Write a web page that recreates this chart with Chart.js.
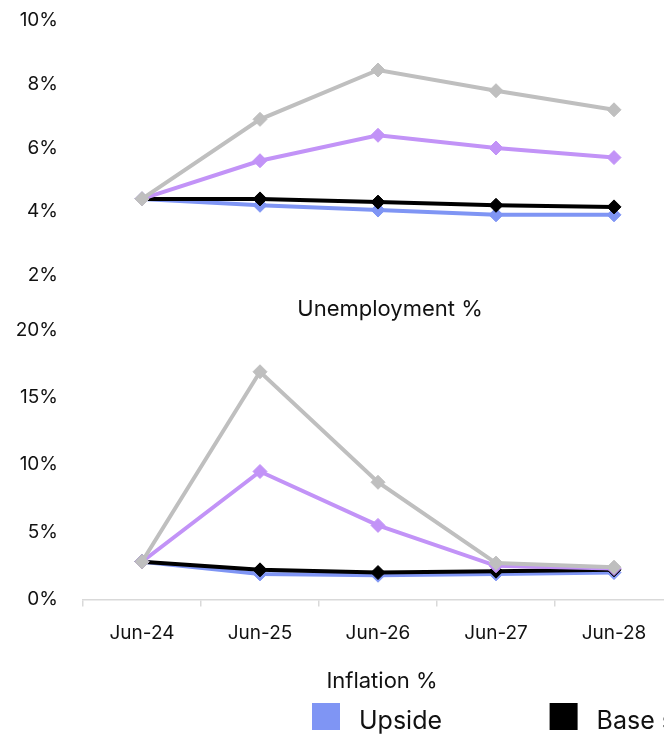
<!DOCTYPE html>
<html>
<head>
<meta charset="utf-8">
<script src="https://cdn.jsdelivr.net/npm/chart.js@4.4.1/dist/chart.umd.min.js"></script>
<style>
  html, body { margin: 0; padding: 0; background: #fff; }
  body { width: 664px; height: 734px; overflow: hidden; position: relative; }
  canvas { position: absolute; left: 0; }
  #unemp { top: 0; }
  #infl { top: 300px; }
</style>
</head>
<body>
<canvas id="unemp" width="700" height="330"></canvas>
<canvas id="infl" width="700" height="434"></canvas>
<script>
// Scenario forecasts, one point per year
const categories = ['Jun-24', 'Jun-25', 'Jun-26', 'Jun-27', 'Jun-28'];
const scenarioNames = ['Upside', 'Base scenario', 'Downside', 'Severe downside'];
const scenarioColors = ['#7f95f4', '#000000', '#c293f7', '#bfbfbf'];

// Unemployment rate, %
const unempUpside   = [4.4, 4.2, 4.05, 3.9, 3.9];
const unempBase     = [4.4, 4.4, 4.3, 4.2, 4.15];
const unempDownside = [4.4, 5.6, 6.4, 6.0, 5.7];
const unempSevere   = [4.4, 6.9, 8.45, 7.8, 7.2];

// Inflation, %
const inflUpside   = [2.8, 1.9, 1.8, 1.9, 2.0];
const inflBase     = [2.8, 2.2, 2.0, 2.1, 2.2];
const inflDownside = [2.8, 9.5, 5.5, 2.5, 2.3];
const inflSevere   = [2.8, 16.9, 8.7, 2.7, 2.4];

// Value axis ticks
const unempTicks = { min: 2, max: 10, step: 2 };
const inflTicks  = { min: 0, max: 20, step: 5 };

const FONT = 'Inter, "Noto Sans", sans-serif';

function makeDatasets(series) {
  // later scenarios drawn on top
  return series.map((values, i) => ({
    label: scenarioNames[i],
    data: values,
    borderColor: scenarioColors[i],
    backgroundColor: scenarioColors[i],
    pointBackgroundColor: scenarioColors[i],
    pointBorderColor: scenarioColors[i],
    borderWidth: 4,
    pointStyle: 'rectRot',
    pointRadius: 7,
    pointBorderWidth: 1,
    tension: 0,
    fill: false,
    order: series.length - i
  }));
}

function yAxis(t) {
  return {
    min: t.min, max: t.max,
    grid: { display: false, drawTicks: false },
    border: { display: false },
    ticks: {
      stepSize: t.step,
      padding: 25,
      color: '#111',
      font: { family: FONT, size: 19 },
      callback: v => v + '%'
    },
    afterFit: s => {
      // fixed gutter; label overhang handled by layout padding
      s.width = 83;
      s.paddingTop = 0;
      s.paddingBottom = 0;
    }
  };
}

// Caption text under each panel
const captionPlugin = {
  id: 'caption',
  afterDraw(chart, args, opts) {
    const ctx = chart.ctx;
    ctx.save();
    ctx.fillStyle = '#111';
    ctx.font = '22px ' + FONT;
    ctx.textAlign = 'center';
    ctx.textBaseline = 'alphabetic';
    ctx.fillText(opts.text, opts.x, opts.y);
    ctx.restore();
  }
};

// Series key drawn as square swatches, one fixed-width column per scenario
const keyPlugin = {
  id: 'seriesKey',
  afterDraw(chart, args, opts) {
    const ctx = chart.ctx;
    ctx.save();
    ctx.font = '25px ' + FONT;
    ctx.textAlign = 'left';
    ctx.textBaseline = 'alphabetic';
    chart.data.datasets.forEach((ds, i) => {
      const x = opts.x + i * opts.pitch;
      ctx.fillStyle = ds.borderColor;
      ctx.fillRect(x, opts.y, 28, 27);
      ctx.fillStyle = '#111';
      ctx.fillText(ds.label, x + 47, opts.y + 26);
    });
    ctx.restore();
  }
};

new Chart(document.getElementById('unemp'), {
  type: 'line',
  data: {
    labels: categories,
    datasets: makeDatasets([unempUpside, unempBase, unempDownside, unempSevere])
  },
  options: {
    responsive: false,
    animation: false,
    devicePixelRatio: 1,
    layout: { padding: { top: 20.7, right: 27, bottom: 54.7, left: 0 } },
    plugins: {
      legend: { display: false },
      tooltip: { enabled: false },
      caption: { text: 'Unemployment %', x: 390, y: 316 }
    },
    scales: {
      x: { display: false, offset: true },
      y: yAxis(unempTicks)
    }
  },
  plugins: [captionPlugin]
});

new Chart(document.getElementById('infl'), {
  type: 'line',
  data: {
    labels: categories,
    datasets: makeDatasets([inflUpside, inflBase, inflDownside, inflSevere])
  },
  options: {
    responsive: false,
    animation: false,
    devicePixelRatio: 1,
    layout: { padding: { top: 30, right: 27, bottom: 74.7, left: 0 } },
    plugins: {
      legend: { display: false },
      tooltip: { enabled: false },
      caption: { text: 'Inflation %', x: 382, y: 388 },
      seriesKey: { x: 312, y: 403, pitch: 237.6 }
    },
    scales: {
      x: {
        offset: true,
        grid: {
          offset: true,
          drawOnChartArea: false,
          drawTicks: true,
          tickLength: 7,
          color: '#d9d9d9',
          lineWidth: 1.5
        },
        border: { display: true, color: '#d9d9d9', width: 1.5 },
        ticks: {
          padding: 15,
          color: '#111',
          maxRotation: 0,
          font: { family: FONT, size: 19 }
        }
      },
      y: yAxis(inflTicks)
    }
  },
  plugins: [captionPlugin, keyPlugin]
});
</script>
</body>
</html>
